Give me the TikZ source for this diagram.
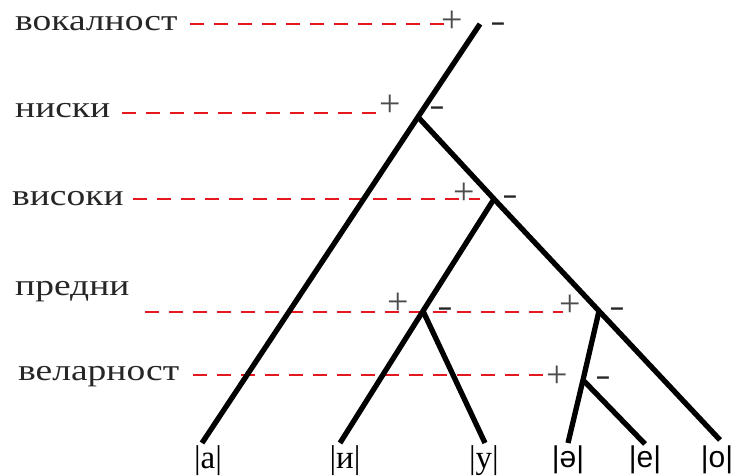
\documentclass[tikz,border=0pt]{standalone}
\usepackage{graphicx}
\usepackage{fontspec}
\setmainfont{Liberation Serif}
\newfontfamily\sansf{Liberation Sans}
\definecolor{dashred}{RGB}{228,24,30}
\begin{document}
\begin{tikzpicture}[x=1pt,y=-1pt,
  branch/.style={line width=5.3pt, draw=black},
  featline/.style={draw=dashred, line width=2pt, dash pattern=on 14pt off 10pt},
  featlabel/.style={anchor=base west, inner sep=0pt, font=\fontsize{30}{36}\selectfont, text=black!85},
  plussign/.style={inner sep=0pt, font=\fontsize{38}{44}\selectfont, text=black!70},
  minussign/.style={inner sep=0pt, font=\sansf\bfseries\fontsize{24}{30}\selectfont, text=black!85},
  leaf/.style={anchor=base, inner sep=0pt, font=\fontsize{33}{38}\selectfont},
  sleaf/.style={anchor=base, inner sep=0pt, font=\sansf\fontsize{30}{36}\selectfont}]
\useasboundingbox (0,0) rectangle (739,476);

% tree points
\coordinate (R) at (480,24);
\coordinate (N1) at (418,117);
\coordinate (N2) at (494,199);
\coordinate (N3) at (423,311);
\coordinate (N4) at (599,311);
\coordinate (N5) at (583,380);
\coordinate (la) at (202,443);
\coordinate (li) at (340,443);
\coordinate (lu) at (485,443);
\coordinate (lsh) at (568,443);
\coordinate (le) at (645,444);
\coordinate (lo) at (720,440);

% feature labels
\node[featlabel] (vok) at (15,31) {\scalebox{1.25}[1]{вокалност}};
\node[featlabel] (nis) at (15,118) {\scalebox{1.25}[1]{ниски}};
\node[featlabel] (vis) at (12,205) {\scalebox{1.25}[1]{високи}};
\node[featlabel] (pre) at (15,295) {\scalebox{1.25}[1]{предни}};
\node[featlabel] (vel) at (18,380) {\scalebox{1.25}[1]{веларност}};

% dashed feature lines
\coordinate (vokS) at (190,24);  \coordinate (vokE) at (445,24);
\coordinate (nisS) at (122,113); \coordinate (nisE) at (380,113);
\coordinate (visS) at (133,199); \coordinate (visE) at (480,199);
\coordinate (preS) at (145,312); \coordinate (preE) at (563,312);
\coordinate (velS) at (193,375); \coordinate (velE) at (545,375);
\draw[featline] (vokS) -- (vokE);
\draw[featline] (nisS) -- (nisE);
\draw[featline] (visS) -- (visE);
\draw[featline] (preS) -- (preE);
\draw[featline] (velS) -- (velE);

% branches
\draw[branch] (R) -- (N1) -- (la);
\draw[branch] (N1) -- (N2) -- (N4) -- (lo);
\draw[branch] (N2) -- (N3) -- (li);
\draw[branch] (N3) -- (lu);
\draw[branch] (N4) -- (N5) -- (lsh);
\draw[branch] (N5) -- (le);

% signs
\node[plussign] (pR) at (452,22) {+};
\node[minussign] (mR) at (498,27) {–};
\node[plussign] (pN1) at (390,106) {+};
\node[minussign] (mN1) at (437,111) {–};
\node[plussign] (pN2) at (464,194) {+};
\node[minussign] (mN2) at (510,200) {–};
\node[plussign] (pN3) at (398,304) {+};
\node[minussign] (mN3) at (445,312) {–};
\node[plussign] (pN4) at (570,306) {+};
\node[minussign] (mN4) at (617,312) {–};
\node[plussign] (pN5) at (557,377) {+};
\node[minussign] (mN5) at (603,381) {–};

% leaves
\node[leaf] (ta) at (208,468) {|а|};
\node[leaf] (ti) at (345,468) {|и|};
\node[leaf] (tu) at (484,468) {|у|};
\node[sleaf] (tsh) at (568,467) {|ə|};
\node[sleaf] (te) at (645,467) {|e|};
\node[sleaf] (to) at (717,467) {|o|};
\end{tikzpicture}
\end{document}
